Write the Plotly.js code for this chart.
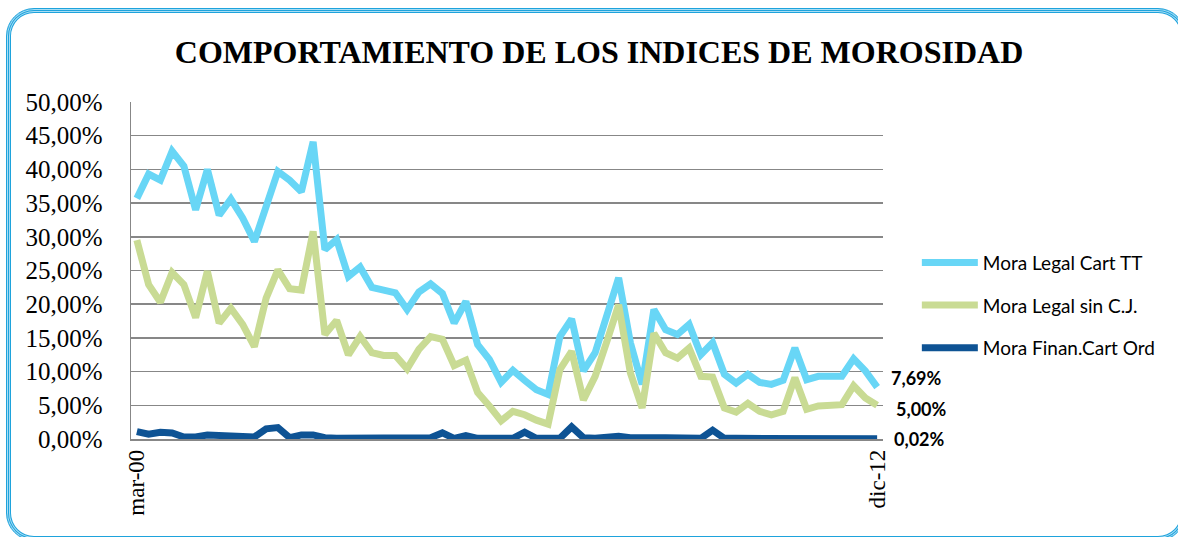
<!DOCTYPE html>
<html>
<head>
<meta charset="utf-8">
<script src="https://cdn.plot.ly/plotly-3.0.1.min.js"></script>
<style>
  html, body { margin:0; padding:0; background:#fff; }
  #wrap { position:relative; width:1178px; height:537px; overflow:hidden; }
  #chart { position:absolute; left:0; top:0; width:1178px; height:537px; }
  #frame { position:absolute; left:6px; top:8px; width:1180px; height:533px; box-sizing:border-box;
    border:1px solid #1ea3dc; border-radius:28px;
    box-shadow: inset 0 0 0 1px #a9def5, inset 0 0 0 2px #1ea3dc, inset 0 0 0 3px #a9def5, inset 0 0 0 4px #1ea3dc;
    pointer-events:none; }
</style>
</head>
<body>
<div id="wrap">
  <div id="frame"></div>
  <div id="chart"></div>
</div>
<script>
// Period index (quarterly points from mar-00 to dic-12)
const periods = Array.from({length: 64}, (_, i) => i);
const tickPositions = [0, 63];
const tickLabels = ['mar-00', 'dic-12'];

const seriesNames = ['Mora Legal Cart TT', 'Mora Legal sin C.J.', 'Mora Finan.Cart Ord'];

const moraLegalCartTT = [
  35.7, 39.3, 38.4, 42.7, 40.5, 34.0, 40.0, 33.2, 35.6, 32.8,
  29.3, 34.7, 39.7, 38.4, 36.7, 44.1, 28.1, 29.6, 24.1, 25.5,
  22.5, 22.1, 21.7, 19.2, 21.8, 23.0, 21.6, 17.2, 20.4, 14.0,
  11.8, 8.4, 10.2, 8.7, 7.3, 6.6, 15.2, 17.8, 10.1, 12.8,
  18.2, 23.9, 14.3, 8.1, 19.2, 16.2, 15.5, 17.0, 12.5, 14.3,
  9.6, 8.3, 9.6, 8.4, 8.1, 8.7, 13.5, 8.8, 9.3, 9.3,
  9.3, 11.9, 10.1, 7.69
];

const moraLegalSinCJ = [
  29.5, 22.9, 20.3, 24.7, 22.9, 18.0, 24.9, 17.2, 19.4, 17.0,
  13.7, 20.9, 25.1, 22.3, 22.1, 30.8, 15.5, 17.6, 12.5, 15.2,
  12.8, 12.4, 12.4, 10.4, 13.3, 15.2, 14.8, 10.9, 11.7, 6.9,
  4.9, 2.7, 4.1, 3.6, 2.8, 2.2, 10.3, 13.0, 5.8, 9.3,
  14.5, 19.9, 9.8, 4.6, 15.7, 12.8, 12.0, 13.5, 9.3, 9.2,
  4.6, 4.0, 5.3, 4.1, 3.6, 4.1, 9.1, 4.4, 4.9, 5.0,
  5.1, 7.9, 6.1, 5.00
];

const moraFinanCartOrd = [
  1.1, 0.7, 1.0, 0.9, 0.3, 0.3, 0.6, 0.5, 0.5, 0.2,
  0.3, 1.5, 1.7, 0.2, 0.6, 0.6, 0.2, 0.1, 0.1, 0.1,
  0.1, 0.1, 0.1, 0.1, 0.2, 0.2, 0.9, 0.1, 0.5, 0.1,
  0.1, 0.1, 0.1, 1.0, 0.1, 0.1, 0.1, 1.8, 0.2, 0.1,
  0.2, 0.4, 0.2, 0.1, 0.2, 0.2, 0.1, 0.1, 0.1, 1.3,
  0.1, 0.1, 0.1, 0.1, 0.1, 0.1, 0.1, 0.1, 0.1, 0.1,
  0.1, 0.1, 0.1, 0.02
];

const colors = ['#68d6f6', '#c9db94', '#0e5394'];
const seriesData = [moraLegalCartTT, moraLegalSinCJ, moraFinanCartOrd];

const traces = seriesData.map((vals, k) => ({
  type: 'scatter', mode: 'lines',
  x: periods, y: vals,
  name: seriesNames[k],
  legendgroup: 'g' + k,
  line: {color: colors[k], width: 7, shape: 'linear'},
  cliponaxis: false,
  hoverinfo: 'skip'
}));

const fmt = v => v.toFixed(2).replace('.', ',') + '%';
const labelShift = [[12, 9], [17, -4], [15, 0]];
const annotations = seriesData.map((vals, k) => ({
  x: periods[periods.length - 1], y: vals[vals.length - 1],
  xref: 'x', yref: 'y',
  text: '<b>' + fmt(vals[vals.length - 1]) + '</b>',
  showarrow: false, xanchor: 'left', yanchor: 'middle',
  xshift: labelShift[k][0], yshift: labelShift[k][1],
  font: {family: 'Lato, "Open Sans", sans-serif', size: 18, color: '#000'}
}));

const gridColor = '#878787';

const layout = {
  width: 1178, height: 537,
  margin: {l: 131, r: 295, t: 102, b: 98},
  paper_bgcolor: 'rgba(0,0,0,0)',
  plot_bgcolor: '#ffffff',
  separators: ',.',
  showlegend: true,
  title: {
    text: '<b>COMPORTAMIENTO DE LOS INDICES DE MOROSIDAD</b>',
    font: {family: '"Liberation Serif", "Times New Roman", serif', size: 32, color: '#000'},
    xref: 'container', yref: 'container', x: 0.5085, y: 0.903,
    xanchor: 'center', yanchor: 'middle'
  },
  xaxis: {
    range: [-0.5, 63.5],
    tickmode: 'array', tickvals: tickPositions, ticktext: tickLabels,
    tickangle: -90,
    tickfont: {family: '"Liberation Serif", "Times New Roman", serif', size: 23, color: '#000'},
    showgrid: false, zeroline: false,
    showline: true, linecolor: gridColor, linewidth: 1.5,
    ticks: '', fixedrange: true
  },
  yaxis: {
    range: [0, 50], dtick: 5, tick0: 0,
    tickformat: '.2f', ticksuffix: '%',
    tickfont: {family: '"Liberation Serif", "Times New Roman", serif', size: 25, color: '#000'},
    showgrid: true, gridcolor: gridColor, gridwidth: 1.5,
    zeroline: false,
    showline: true, linecolor: gridColor, linewidth: 1.5,
    ticks: '', ticklabelstandoff: 22, fixedrange: true
  },
  legend: {
    x: 1.045, y: 0.58, xanchor: 'left', yanchor: 'top',
    traceorder: 'grouped', tracegroupgap: 15,
    itemwidth: 56,
    font: {family: 'Lato, "Open Sans", sans-serif', size: 19, color: '#000'},
    bgcolor: 'rgba(0,0,0,0)'
  },
  annotations: annotations
};

Plotly.newPlot('chart', traces, layout, {displayModeBar: false, staticPlot: true});
</script>
</body>
</html>
